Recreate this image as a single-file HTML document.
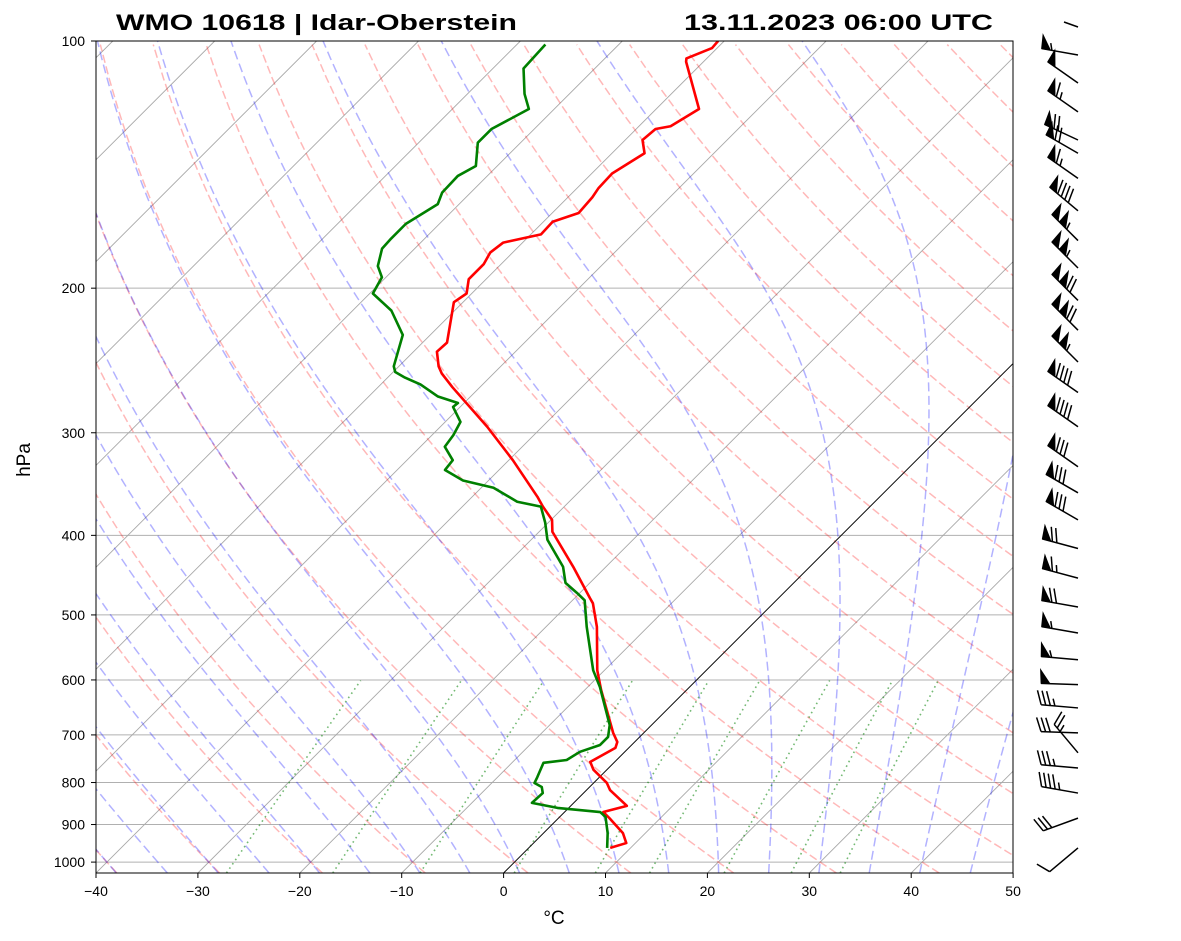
<!DOCTYPE html>
<html><head><meta charset="utf-8"><title>Skew-T Idar-Oberstein</title>
<style>
html,body{margin:0;padding:0;background:#fff;}
svg{display:block;font-family:"Liberation Sans",sans-serif;}
</style></head>
<body>
<svg id="fig" width="1181" height="941" viewBox="0 0 1181 941" xmlns="http://www.w3.org/2000/svg">
<defs><clipPath id="plotclip"><rect x="96" y="41" width="917" height="832"/></clipPath></defs>
<rect width="1181" height="941" fill="#fff"/>
<text x="116" y="30" font-size="22" font-weight="bold" textLength="401" lengthAdjust="spacingAndGlyphs">WMO 10618 | Idar-Oberstein</text>
<text x="684" y="30" font-size="22" font-weight="bold" textLength="309" lengthAdjust="spacingAndGlyphs">13.11.2023 06:00 UTC</text>
<g id="plot" clip-path="url(#plotclip)"></g>
<rect x="96" y="41" width="917" height="832" fill="none" stroke="#000" stroke-width="1"/>
<g id="axes"></g>
<g id="barbs"></g>
<text x="0" y="0" font-size="19" text-anchor="middle" transform="translate(30,460) rotate(-90)">hPa</text>
<text x="554" y="924" font-size="19" text-anchor="middle">°C</text>
</svg>
<script>
// ---- data ----
const tempP = [961,948,922,884,869,854,817,801,772,755,726,714,696,617,584,517,484,477,437,396,383,369,359,324,295,264,254,249,239,233,208,203,195,187,181,176,172,166,162,155,151,145,137,132,128,127,121,106,105,102,100];
const tempT = [8.0,9.1,7.8,5.0,3.8,5.5,2.3,1.3,-1.3,-2.4,-1.3,-1.7,-3.0,-8.4,-10.7,-15.0,-17.7,-18.5,-23.2,-28.7,-29.9,-32.1,-33.6,-39.6,-45.4,-52.7,-55.1,-56.1,-57.7,-57.6,-60.9,-60.5,-61.7,-61.7,-62.2,-61.9,-59.0,-59.1,-57.4,-57.6,-57.9,-58.0,-56.8,-58.3,-58.1,-56.9,-55.8,-61.7,-62.0,-60.5,-60.6];
const dewP = [961,922,881,869,859,847,824,810,801,788,757,751,734,720,704,681,612,584,517,480,470,457,437,405,386,369,364,350,343,333,324,312,302,291,279,276,271,262,257,253,249,228,213,203,194,188,179,174,167,158,153,146,142,133,128,121,116,108,101];
const dewT = [7.7,6.3,4.5,3.5,-1.1,-4.1,-4.0,-4.7,-5.8,-6.1,-6.9,-4.9,-4.4,-3.1,-3.1,-4.1,-8.8,-11.1,-16.0,-18.8,-20.3,-22.4,-24.2,-28.4,-30.3,-32.3,-35.1,-38.8,-42.5,-45.3,-45.5,-47.6,-47.9,-48.5,-50.7,-50.6,-53.2,-56.1,-58.3,-59.8,-60.5,-62.7,-66.2,-69.7,-70.4,-71.9,-73.2,-73.3,-73.3,-72.1,-72.8,-72.9,-72.1,-74.2,-74.2,-72.5,-74.4,-77.0,-77.2];
const windP = [104,112.5,122,132,137,147,161,175,189,207,225,246,268,295,330,355,383,415,451,489,526,567,608,649,696,736,768,824,884,961];
const windSpd = [55,50,65,70,70,65,90,105,105,120,120,105,90,90,80,80,80,70,65,70,55,55,50,35,30,25,35,45,30,10];
const windDir = [280,305,305,295,300,305,310,315,315,315,315,315,305,305,305,300,300,285,285,280,280,275,272,275,272,320,275,280,250,230];
const pTicks = [100,200,300,400,500,600,700,800,900,1000];
const tTicks = [-40,-30,-20,-10,0,10,20,30,40,50];
const dryTheta = [];
for (let t=-50; t<=200; t+=10) dryTheta.push(t);
const moistT0 = [-60,-55,-50,-45,-40,-35,-30,-25,-20,-15,-10,-5,0,5,10,15,20,25,30,35,40,45];
const mixRatios = [0.0004,0.001,0.002,0.004,0.007,0.01,0.016,0.024,0.032];

// ---- scales ----
const PTOP=100, PBOT=1031;
function yP(p){return 41 + 356.6*Math.log(p/100);}
function xT(T,p){return 96 + (T+40)*10.19 + (873 - yP(p));}
const NS='http://www.w3.org/2000/svg';
function mk(tag, attrs, parent){const e=document.createElementNS(NS,tag);for(const k in attrs)e.setAttribute(k,attrs[k]);parent.appendChild(e);return e;}
const plot=document.getElementById('plot');
const axes=document.getElementById('axes');
const barbs=document.getElementById('barbs');
function pts(arr){return arr.map(a=>a[0].toFixed(2)+','+a[1].toFixed(2)).join(' ');}

pTicks.forEach(p=>{
  const l=mk('line',{x1:96,x2:1013,y1:yP(p),y2:yP(p),stroke:'#b0b0b0','stroke-width':1},plot);
  
  
});
for(let t=-140;t<=50;t+=10){
  const l=mk('line',{x1:xT(t,PBOT),y1:yP(PBOT),x2:xT(t,PTOP),y2:yP(PTOP),stroke:'#a8a8a8','stroke-width':0.9},plot);
  
  
}
const plevs=[];for(let p=PBOT;p>=PTOP-0.1;p-=10)plevs.push(p);
dryTheta.forEach(th=>{
  const a=plevs.map(p=>[xT((th+273.15)*Math.pow(p/1000,0.2857)-273.15,p),yP(p)]);
  const l=mk('polyline',{points:pts(a),fill:'none',stroke:'rgba(255,0,0,0.28)','stroke-width':1.5,'stroke-dasharray':'8.3,3.6'},plot);
  
  
});
function es(Tc){return 6.112*Math.exp(17.67*Tc/(Tc+243.5));}
function dTdp(T,p){const Tc=T-273.15;const e=es(Tc);const rs=0.622*e/(p-e);
  return (287.04*T+2.501e6*rs)/(1004.6+2.501e6*2.501e6*rs*0.622/(287.04*T*T))/p;}
function integ(T0,p0,p1,dp){const out=[[p0,T0]];let T=T0,p=p0;const n=Math.round(Math.abs(p1-p0)/Math.abs(dp));const h=(p1-p0)/n;
  for(let i=0;i<n;i++){const k1=dTdp(T,p),k2=dTdp(T+h*k1/2,p+h/2),k3=dTdp(T+h*k2/2,p+h/2),k4=dTdp(T+h*k3,p+h);
    T+=h*(k1+2*k2+2*k3+k4)/6;p+=h;out.push([p,T]);}return out;}
moistT0.forEach(t0=>{
  const up=integ(t0+273.15,1000,PTOP,5);const dn=integ(t0+273.15,1000,PBOT,5).reverse();
  const all=dn.concat(up.slice(1));
  const a=all.map(q=>[xT(q[1]-273.15,q[0]),yP(q[0])]);
  const l=mk('polyline',{points:pts(a),fill:'none',stroke:'rgba(0,0,255,0.3)','stroke-width':1.5,'stroke-dasharray':'9,4.5'},plot);
  
  
});
mixRatios.forEach(w=>{
  const a=[];for(let p=PBOT;p>=600;p-=10){const e=p*w/(0.622+w);const L=Math.log(e/6.112);const td=243.5*L/(17.67-L);a.push([xT(td,p),yP(p)]);}
  const l=mk('polyline',{points:pts(a),fill:'none',stroke:'rgba(0,128,0,0.55)','stroke-width':1.6,'stroke-dasharray':'1.6,3.6'},plot);
  
  
});
const z=mk('line',{x1:xT(0,PBOT),y1:yP(PBOT),x2:xT(0,PTOP),y2:yP(PTOP),stroke:'#000','stroke-width':0.9},plot);


const tl=mk('polyline',{points:pts(tempP.map((p,i)=>[xT(tempT[i],p),yP(p)])),fill:'none',stroke:'#f00','stroke-width':2.6,'stroke-linejoin':'round'},plot);


const dl=mk('polyline',{points:pts(dewP.map((p,i)=>[xT(dewT[i],p),yP(p)])),fill:'none',stroke:'#008000','stroke-width':2.6,'stroke-linejoin':'round'},plot);



pTicks.forEach(p=>{
  const y=yP(p);
  const tk=mk('line',{x1:91,x2:96,y1:y,y2:y,stroke:'#000','stroke-width':1},axes);
  
  
  const t=mk('text',{x:85,y:y+5,'font-size':14,'text-anchor':'end'},axes);
  t.textContent=String(p);
  
  
});
tTicks.forEach(T=>{
  const x=96+(T+40)*10.19;
  const tk=mk('line',{x1:x,x2:x,y1:873,y2:878,stroke:'#000','stroke-width':1},axes);
  
  
  const t=mk('text',{x:x,y:896,'font-size':14,'text-anchor':'middle'},axes);
  t.textContent=(T<0?'\u2212'+Math.abs(T):String(T));
  
  
});

const L=37,H=14,FW=9,SP=4.6;
windP.forEach((p,i)=>{
  const bx=1078, by=yP(p);
  const r=windDir[i]*Math.PI/180;
  const d=[Math.sin(r),-Math.cos(r)];
  const n=[-d[1],d[0]];
  const g=mk('g',{},barbs);
  
  
  const tip=[bx+d[0]*L,by+d[1]*L];
  mk('line',{x1:bx,y1:by,x2:tip[0],y2:tip[1],stroke:'#000','stroke-width':1.5},g);
  const P=s=>[tip[0]-d[0]*s,tip[1]-d[1]*s];
  let spd=Math.round(windSpd[i]/5)*5;
  const flags=Math.floor(spd/50);spd-=flags*50;
  const full=Math.floor(spd/10);spd-=full*10;
  const half=spd>=5;
  let s=0;
  for(let k=0;k<flags;k++){
    const A=P(s),B=P(s+FW);
    const C=[A[0]+n[0]*H+d[0]*1,A[1]+n[1]*H+d[1]*1];
    mk('polygon',{points:pts([A,B,C]),fill:'#000',stroke:'#000','stroke-width':0.8},g);
    s+=FW+1.5;
  }
  if(flags===0 && full===0 && half) s+=SP;
  for(let k=0;k<full;k++){
    const A=P(s);
    mk('line',{x1:A[0],y1:A[1],x2:A[0]+n[0]*H+d[0]*H*0.35,y2:A[1]+n[1]*H+d[1]*H*0.35,stroke:'#000','stroke-width':1.5},g);
    s+=SP;
  }
  if(half){
    const A=P(s);
    mk('line',{x1:A[0],y1:A[1],x2:A[0]+n[0]*H*0.5+d[0]*H*0.17,y2:A[1]+n[1]*H*0.5+d[1]*H*0.17,stroke:'#000','stroke-width':1.5},g);
  }
});
const tb=mk('line',{x1:1064,y1:22,x2:1078,y2:27,stroke:'#000','stroke-width':1.5},barbs);


</script>
</body></html>
